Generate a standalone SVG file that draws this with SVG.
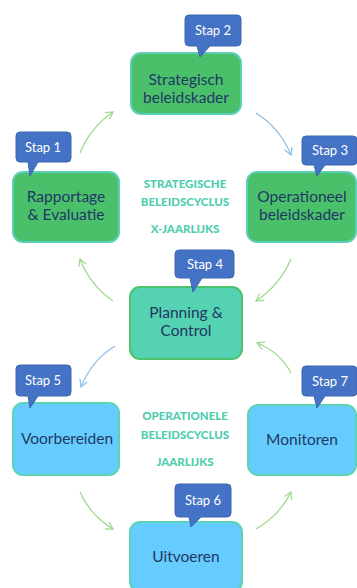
<svg xmlns="http://www.w3.org/2000/svg" width="357" height="588" viewBox="0 0 357 588">
<style>
.g{fill:#4BC06A;stroke:#5CCFB6;stroke-width:2}
.t{fill:#55D2B2;stroke:#4DC26C;stroke-width:2}
.b{fill:#66CCFF;stroke:#5DD3B5;stroke-width:2}
.c{fill:#4472C4;stroke:#3E66B0;stroke-width:1}
.lbl{font-family:Lato,"Noto Sans",sans-serif;font-size:15.5px;fill:#1F3864;text-anchor:middle}
.st{font-family:Lato,"Noto Sans",sans-serif;font-size:13px;fill:#ffffff;text-anchor:middle}
.cy{font-family:Lato,"Noto Sans",sans-serif;font-size:11.5px;font-weight:900;fill:#4FCDAE;text-anchor:middle}
.ag{fill:none;stroke:#9BD88A;stroke-width:1.2}
.ab{fill:none;stroke:#8DBCE6;stroke-width:1.2}
</style>
<defs>
<marker id="mg" markerWidth="10" markerHeight="10" refX="8" refY="5" orient="auto" markerUnits="userSpaceOnUse"><path d="M1,1 L8,5 L1,9" fill="none" stroke="#9BD88A" stroke-width="1.2"/></marker>
<marker id="mb" markerWidth="10" markerHeight="10" refX="8" refY="5" orient="auto" markerUnits="userSpaceOnUse"><path d="M1,1 L8,5 L1,9" fill="none" stroke="#8DBCE6" stroke-width="1.2"/></marker>
</defs>
<g id="connectors">
<path class="ag" d="M80,153 Q90,128 113,112" marker-end="url(#mg)"/>
<path class="ab" d="M256,113 Q280,128 291,155" marker-end="url(#mb)"/>
<path class="ag" d="M291,259 Q280,285 256,301" marker-end="url(#mg)"/>
<path class="ag" d="M113,301 Q90,285 80,259" marker-end="url(#mg)"/>
<path class="ab" d="M115,346 Q92,360 81,387" marker-end="url(#mb)"/>
<path class="ag" d="M80,492 Q90,515 113,529" marker-end="url(#mg)"/>
<path class="ag" d="M256,529 Q280,515 291,492" marker-end="url(#mg)"/>
<path class="ag" d="M291,373 Q280,352 257,343" marker-end="url(#mg)"/>
</g>
<g id="center-strategic">
<text class="cy" x="185" y="188">STRATEGISCHE</text>
<text class="cy" x="185" y="206">BELEIDSCYCLUS</text>
<text class="cy" x="185" y="233">X-JAARLIJKS</text>
</g>
<g id="center-operational">
<text class="cy" x="185" y="420">OPERATIONELE</text>
<text class="cy" x="185" y="439">BELEIDSCYCLUS</text>
<text class="cy" x="185" y="466">JAARLIJKS</text>
</g>
<g id="node-stap2">
<rect class="g" x="131" y="53" width="110" height="61" rx="10"/>
<text class="lbl" x="186" y="85">Strategisch</text>
<text class="lbl" x="186" y="103">beleidskader</text>
<path class="c" d="M189,15 h48 a4,4 0 0 1 4,4 v23 a4,4 0 0 1 -4,4 h-27 l-10,11 l-3,-11 h-8 a4,4 0 0 1 -4,-4 v-23 a4,4 0 0 1 4,-4 z"/>
<text class="st" x="213" y="35">Stap 2</text>
</g>
<g id="node-stap1">
<rect class="g" x="13" y="172" width="106" height="70" rx="10"/>
<text class="lbl" x="66" y="202">Rapportage</text>
<text class="lbl" x="66" y="220">&amp; Evaluatie</text>
<path class="c" d="M20,132 h47 a4,4 0 0 1 4,4 v22 a4,4 0 0 1 -4,4 h-29 l-8,14 l-2,-14 h-8 a4,4 0 0 1 -4,-4 v-22 a4,4 0 0 1 4,-4 z"/>
<text class="st" x="43" y="152">Stap 1</text>
</g>
<g id="node-stap3">
<rect class="g" x="247" y="172" width="109" height="70" rx="10"/>
<text class="lbl" x="302" y="202">Operationeel</text>
<text class="lbl" x="302" y="220">beleidskader</text>
<path class="c" d="M306,136 h47 a4,4 0 0 1 4,4 v21 a4,4 0 0 1 -4,4 h-28 l-8,11 l-3,-11 h-8 a4,4 0 0 1 -4,-4 v-21 a4,4 0 0 1 4,-4 z"/>
<text class="st" x="330" y="155">Stap 3</text>
</g>
<g id="node-stap4">
<rect class="t" x="130" y="287" width="112" height="72" rx="10"/>
<text class="lbl" x="186" y="318">Planning &amp;</text>
<text class="lbl" x="186" y="336">Control</text>
<path class="c" d="M179,250 h51 a4,4 0 0 1 4,4 v20 a4,4 0 0 1 -4,4 h-28 l-9,14 l-3,-14 h-11 a4,4 0 0 1 -4,-4 v-20 a4,4 0 0 1 4,-4 z"/>
<text class="st" x="205" y="269">Stap 4</text>
</g>
<g id="node-stap5">
<rect class="b" x="13" y="403" width="106" height="72" rx="10"/>
<text class="lbl" x="67" y="444">Voorbereiden</text>
<path class="c" d="M20,365 h47 a4,4 0 0 1 4,4 v23 a4,4 0 0 1 -4,4 h-29 l-8,12 l-2,-12 h-8 a4,4 0 0 1 -4,-4 v-23 a4,4 0 0 1 4,-4 z"/>
<text class="st" x="43" y="385">Stap 5</text>
</g>
<g id="node-stap7">
<rect class="b" x="248" y="405" width="108" height="70" rx="10"/>
<text class="lbl" x="302" y="445">Monitoren</text>
<path class="c" d="M306,366 h47 a4,4 0 0 1 4,4 v22 a4,4 0 0 1 -4,4 h-28 l-8,12 l-3,-12 h-8 a4,4 0 0 1 -4,-4 v-22 a4,4 0 0 1 4,-4 z"/>
<text class="st" x="330" y="386">Stap 7</text>
</g>
<g id="node-stap6">
<rect class="b" x="130" y="522" width="112" height="70" rx="10"/>
<text class="lbl" x="186" y="562">Uitvoeren</text>
<path class="c" d="M179,484 h48 a4,4 0 0 1 4,4 v25 a4,4 0 0 1 -4,4 h-26 l-10,10 l-2,-10 h-10 a4,4 0 0 1 -4,-4 v-25 a4,4 0 0 1 4,-4 z"/>
<text class="st" x="203" y="505">Stap 6</text>
</g>
</svg>
